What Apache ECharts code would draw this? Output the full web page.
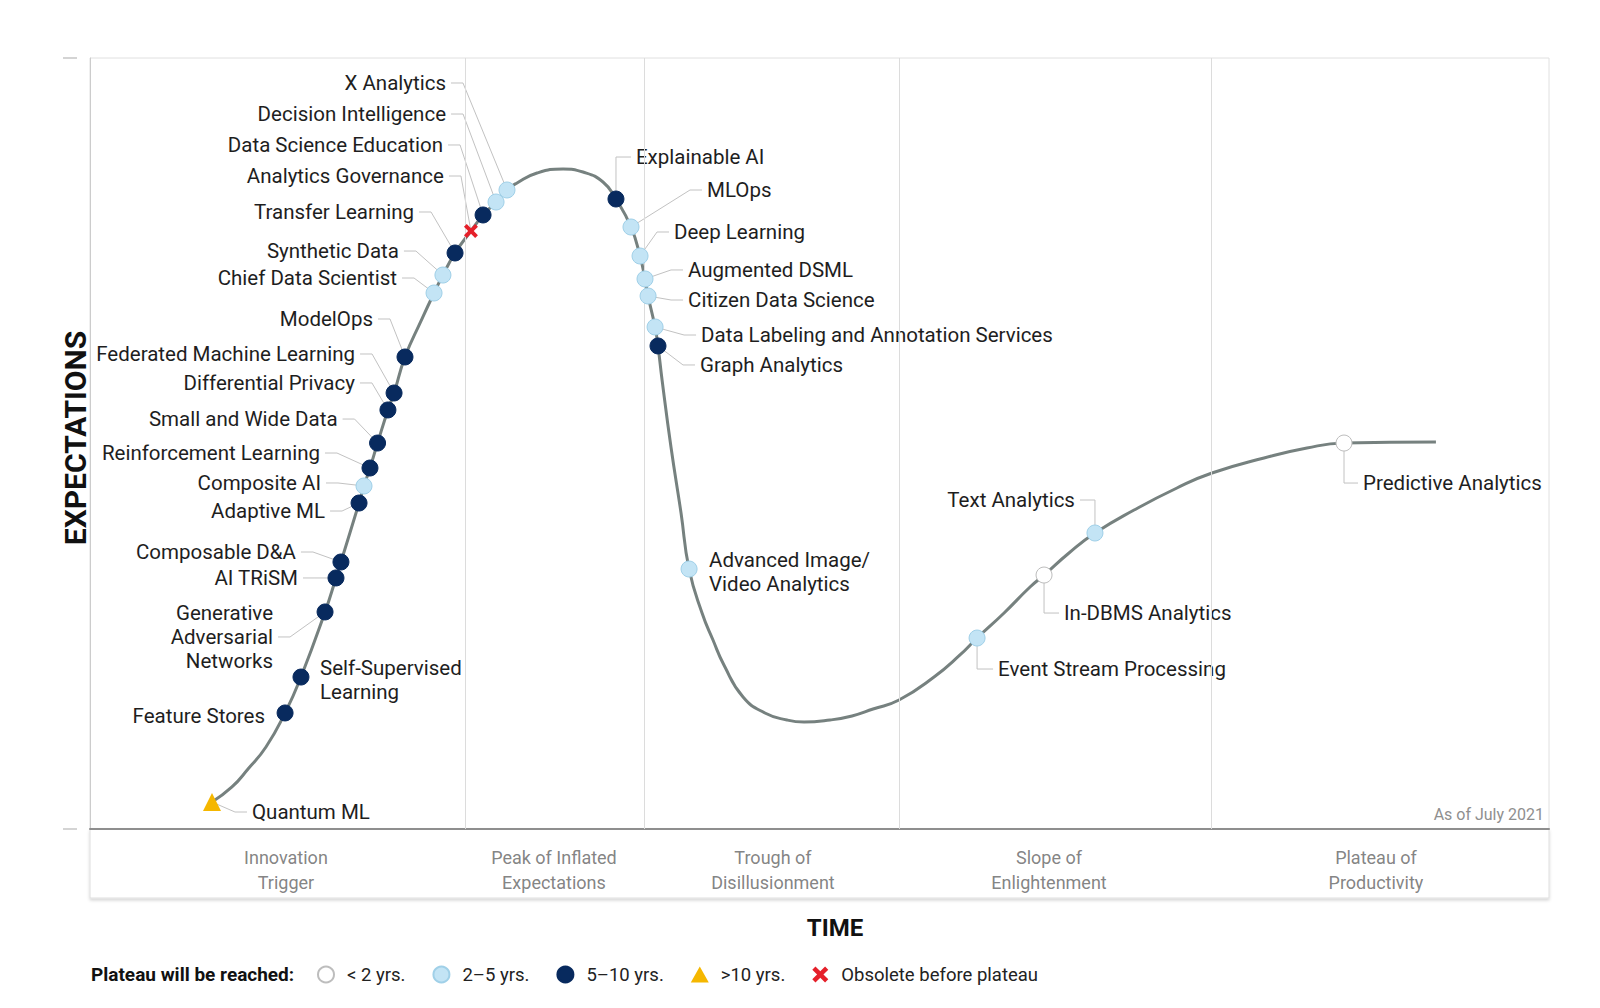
<!DOCTYPE html>
<html>
<head>
<meta charset="utf-8">
<script src="https://cdn.jsdelivr.net/npm/echarts@6/dist/echarts.min.js"></script>
<style>
html,body{margin:0;padding:0;background:#fff;}
#chart{width:1600px;height:1008px;}
</style>
</head>
<body>
<div id="chart"></div>
<script>
// ---------------- DATA ----------------
const techNames = [
  'X Analytics', 'Decision Intelligence', 'Data Science Education', 'Analytics Governance',
  'Transfer Learning', 'Synthetic Data', 'Chief Data Scientist', 'ModelOps',
  'Federated Machine Learning', 'Differential Privacy', 'Small and Wide Data', 'Reinforcement Learning',
  'Composite AI', 'Adaptive ML', 'Composable D&A', 'AI TRiSM',
  'Generative\nAdversarial\nNetworks', 'Feature Stores', 'Self-Supervised\nLearning', 'Quantum ML',
  'Explainable AI', 'MLOps', 'Deep Learning', 'Augmented DSML',
  'Citizen Data Science', 'Data Labeling and Annotation Services', 'Graph Analytics', 'Advanced Image/\nVideo Analytics',
  'Event Stream Processing', 'In-DBMS Analytics', 'Text Analytics', 'Predictive Analytics'
];
// position along the time axis (0-100)
const techTime = [
  28.58, 27.83, 26.94, 26.11,
  25.02, 24.19, 23.58, 21.59,
  20.84, 20.42, 19.71, 19.19,
  18.78, 18.44, 17.20, 16.86,
  16.11, 13.37, 14.46, 8.36,
  36.05, 37.08, 37.70, 38.04,
  38.25, 38.73, 38.93, 41.06,
  60.80, 65.39, 68.88, 85.95
];
// expectations (0-100)
const techExpect = [
  82.88, 81.32, 79.64, 77.56,
  74.71, 71.85, 69.52, 61.22,
  56.55, 54.35, 50.06, 46.82,
  44.49, 42.28, 34.63, 32.56,
  28.15, 15.05, 19.71, 3.50,
  81.71, 78.08, 74.32, 71.34,
  69.13, 65.11, 62.65, 33.72,
  24.77, 32.94, 38.39, 50.06
];
// plateau reached: a <2 yrs, b 2-5 yrs, c 5-10 yrs, d >10 yrs, x obsolete
const techStatus = [
  'b', 'b', 'c', 'x',
  'c', 'b', 'b', 'c',
  'c', 'c', 'c', 'c',
  'b', 'c', 'c', 'c',
  'c', 'c', 'c', 'd',
  'c', 'b', 'b', 'b',
  'b', 'b', 'c', 'b',
  'b', 'a', 'b', 'a'
];
const statusKeys = ['a', 'b', 'c', 'd', 'x'];
const statusNames = ['< 2 yrs.', '2\u20135 yrs.', '5\u201310 yrs.', '>10 yrs.', 'Obsolete before plateau'];

// hype cycle curve
const curveTime = [
  8.36, 9.73, 10.83, 12.06, 13.37, 14.46, 16.11, 16.86, 17.20, 18.44, 18.78, 19.19, 19.71, 20.42, 20.84,
  21.59, 22.69, 23.58, 24.19, 25.02, 26.11, 26.94, 27.83, 28.58, 29.27, 30.64, 32.42, 33.79, 35.16,
  36.05, 37.08, 37.70, 38.04, 38.25, 38.73, 38.93, 39.21, 39.82, 40.51, 41.06, 41.95, 42.70, 43.45, 44.76,
  46.26, 47.77, 48.94, 50.72, 52.23, 53.67, 55.45, 57.85, 59.63, 60.80, 62.65, 64.43, 65.39, 67.10, 68.88, 71.56,
  74.50, 76.90, 80.47, 83.41, 85.95, 92.25
];
const curveExpect = [
  3.50, 5.45, 7.78, 10.64, 15.05, 19.71, 28.15, 32.56, 34.63, 42.28, 44.49, 46.82, 50.06, 54.35, 56.55,
  61.22, 65.89, 69.52, 71.85, 74.71, 77.56, 79.64, 81.32, 82.88, 83.79, 85.08, 85.60, 85.21, 83.92,
  81.71, 78.08, 74.32, 71.34, 69.13, 65.11, 62.65, 58.24, 49.55, 40.99, 33.72, 28.02, 24.51, 21.27, 17.12,
  15.05, 14.14, 13.88, 14.14, 14.66, 15.56, 16.73, 19.71, 22.57, 24.77, 28.02, 31.39, 32.94, 35.80, 38.39, 41.37,
  44.23, 46.17, 48.12, 49.42, 50.06, 50.19
];

const phaseNames = ['Innovation\nTrigger', 'Peak of Inflated\nExpectations', 'Trough of\nDisillusionment', 'Slope of\nEnlightenment', 'Plateau of\nProductivity'];
const phaseCenters = [13.43, 31.80, 46.81, 65.73, 88.14];
const phaseBounds = [25.70, 37.97, 55.45, 76.83];

// ---------------- LAYOUT (label offsets in px from the dot, leader style) ----------------
const labelLayout = [
  [-61, -107, 'h'], [-50, -88, 'h'], [-40, -70, 'h'], [-27, -55, 'h'],
  [-41, -41, 'h'], [-44, -24, 'h'], [-37, -15, 'h'], [-32, -38, 'h'],
  [-39, -39, 'h'], [-33, -27, 'h'], [-40, -24, 'h'], [-50, -15, 'h'],
  [-43, -3, 'h'], [-34, 8, 'h'], [-45, -10, 'h'], [-38, 0, 'h'],
  [-52, 25, 'h'], [-20, 3, 'n'], [19, 3, 'n'], [40, 10, 'h'],
  [20, -42, 'v'], [76, -37, 'h'], [34, -24, 'h'], [43, -9, 'h'],
  [40, 4, 'h'], [46, 8, 'h'], [42, 19, 'h'], [20, 3, 'n'],
  [21, 31, 'v'], [20, 38, 'v'], [-20, -33, 'v'], [19, 40, 'v']
];
const PHASE_LABEL_Y = 0.41;
const FONT = 'Roboto, "Noto Sans", sans-serif';

const statusStyle = {
  a: { symbol: 'circle', size: 16, item: { color: '#ffffff', borderColor: '#bdbdbd', borderWidth: 1, opacity: 1 } },
  b: { symbol: 'circle', size: 16, item: { color: '#c3e4f5', borderColor: '#a0d0e8', borderWidth: 1, opacity: 1 } },
  c: { symbol: 'circle', size: 16, item: { color: '#082a5e', borderColor: '#082a5e', borderWidth: 1, opacity: 1 } },
  d: { symbol: 'triangle', size: 18, item: { color: '#f5b700', borderWidth: 0, opacity: 1 } },
  x: { symbol: 'path://M2,0 L5,3 L8,0 L10,2 L7,5 L10,8 L8,10 L5,7 L2,10 L0,8 L3,5 L0,2 Z', size: 14, item: { color: '#e5202a', borderWidth: 0, opacity: 1 } }
};

const chart = echarts.init(document.getElementById('chart'), null, { renderer: 'svg' });

const dotSeries = statusKeys.map(function (k, si) {
  const st = statusStyle[k];
  const data = [];
  techNames.forEach(function (n, i) {
    if (techStatus[i] === k) data.push([techTime[i], techExpect[i]]);
  });
  return {
    type: 'scatter', name: statusNames[si], xAxisIndex: 0, yAxisIndex: 0,
    data: data, symbol: st.symbol, symbolSize: st.size, itemStyle: st.item,
    z: 6, silent: true
  };
});

const option = {
  animation: false,
  backgroundColor: '#ffffff',
  textStyle: { fontFamily: FONT },
  grid: [
    { left: 90, right: 51, top: 58, bottom: 179, show: true, borderColor: '#e0e0e0', borderWidth: 1, containLabel: false },
    { left: 90, right: 51, top: 829, bottom: 110, show: true, borderColor: '#dedede', borderWidth: 1,
      backgroundColor: '#ffffff', shadowColor: 'rgba(0,0,0,0.16)', shadowBlur: 3, shadowOffsetY: 2, containLabel: false }
  ],
  xAxis: [
    { type: 'value', gridIndex: 0, min: 0, max: 100,
      axisLine: { show: true, onZero: false, lineStyle: { color: '#8e8e8e', width: 2 } },
      axisTick: { show: false }, axisLabel: { show: false }, splitLine: { show: false },
      name: 'TIME', nameLocation: 'middle', nameGap: 87,
      nameTextStyle: { fontSize: 24, fontWeight: 'bold', color: '#111', fontFamily: FONT, padding: [0, 0, 0, 31] } },
    { type: 'value', gridIndex: 1, min: 0, max: 100, show: false }
  ],
  yAxis: [
    { type: 'value', gridIndex: 0, min: 0, max: 100,
      axisLine: { show: true, onZero: false, lineStyle: { color: '#cccccc', width: 1 } },
      axisTick: { show: false }, axisLabel: { show: false }, splitLine: { show: false },
      name: 'EXPECTATIONS', nameLocation: 'middle', nameGap: 0,
      nameTextStyle: { fontSize: 30, fontWeight: 'bold', color: '#111', fontFamily: FONT, padding: [0, 0, 0, 11] } },
    { type: 'value', gridIndex: 0, position: 'left', offset: 13, min: 0, max: 100, interval: 100,
      axisLine: { show: false, onZero: false }, axisTick: { show: true, length: 14, lineStyle: { color: '#d4d4d4', width: 2 } },
      axisLabel: { show: false }, splitLine: { show: false } },
    { type: 'value', gridIndex: 1, min: 0, max: 1, show: false }
  ],
  legend: {
    left: 312, top: 960, itemWidth: 18, itemHeight: 16, itemGap: 27,
    selectedMode: false, data: statusNames,
    textStyle: { fontSize: 18.5, color: '#222', fontFamily: FONT, padding: [0, 0, 0, 7] }
  },
  graphic: [
    { type: 'text', left: 91, top: 965,
      style: { text: 'Plateau will be reached:', fontSize: 19, fontWeight: 'bold', fill: '#111', fontFamily: FONT } },
    { type: 'text', right: 56, top: 806,
      style: { text: 'As of July 2021', fontSize: 16, fill: '#8f8f8f', fontFamily: FONT } }
  ],
  series: [
    {
      type: 'line', name: 'curve', xAxisIndex: 0, yAxisIndex: 0,
      data: curveTime.map(function (t, i) { return [t, curveExpect[i]]; }),
      smooth: 0.5, showSymbol: false, symbol: 'none', silent: true, z: 3,
      lineStyle: { color: '#76817f', width: 3 },
      markLine: {
        silent: true, symbol: ['none', 'none'], label: { show: false },
        lineStyle: { color: '#dcdcdc', width: 1, type: 'solid' },
        emphasis: { disabled: true },
        data: phaseBounds.map(function (b) { return { xAxis: b }; })
      }
    },
    {
      type: 'custom', name: 'labels', xAxisIndex: 0, yAxisIndex: 0, z: 4, silent: true, clip: false,
      data: techTime.map(function (t, i) { return [t, techExpect[i]]; }),
      renderItem: function (params, api) {
        const i = params.dataIndex;
        const p = api.coord([api.value(0), api.value(1)]);
        const L = labelLayout[i];
        const lx = p[0] + L[0], ly = p[1] + L[1];
        const onLeft = L[0] < 0;
        const children = [];
        if (L[2] !== 'n') {
          const sx = lx + (onLeft ? 5 : -5);
          const ex = L[2] === 'v' ? p[0] : lx + (onLeft ? 17 : -17);
          children.push({
            type: 'polyline',
            shape: { points: [[sx, ly], [ex, ly], [p[0], p[1]]] },
            style: { stroke: '#c2c2c2', lineWidth: 1, fill: null }
          });
        }
        children.push({
          type: 'text', x: lx, y: ly,
          style: {
            text: techNames[i], fill: '#1e1e1e', fontSize: 20.5, fontFamily: FONT,
            align: onLeft ? 'right' : 'left', verticalAlign: 'middle', lineHeight: 24
          }
        });
        return { type: 'group', children: children };
      }
    },
    {
      type: 'scatter', name: 'phases', xAxisIndex: 1, yAxisIndex: 2, silent: true,
      symbolSize: 1, itemStyle: { color: 'rgba(0,0,0,0)' },
      data: phaseCenters.map(function (c, i) { return { value: [c, PHASE_LABEL_Y], name: phaseNames[i] }; }),
      label: {
        show: true, position: 'inside', formatter: function (p) { return p.name; },
        fontSize: 18, color: '#646464', lineHeight: 25, fontFamily: FONT, align: 'center'
      }
    }
  ].concat(dotSeries)
};

chart.setOption(option);
</script>
</body>
</html>
